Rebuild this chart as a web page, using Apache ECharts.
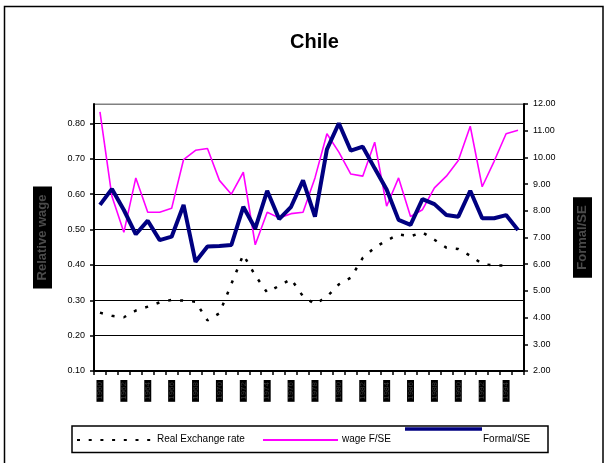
<!DOCTYPE html>
<html>
<head>
<meta charset="utf-8">
<script src="https://cdn.jsdelivr.net/npm/echarts@6/dist/echarts.min.js"></script>
<style>
html,body{margin:0;padding:0;background:#fff;}
#chart{width:610px;height:463px;}
</style>
</head>
<body>
<div id="chart"></div>
<script>
var years = ['1960','1961','1962','1963','1964','1965','1966','1967','1968','1969',
             '1970','1971','1972','1973','1974','1975','1976','1977','1978','1979',
             '1980','1981','1982','1983','1984','1985','1986','1987','1988','1989',
             '1990','1991','1992','1993','1994','1995'];
var realExchangeRate = [0.265,0.256,0.252,0.271,0.282,0.294,0.301,0.299,0.296,0.243,
                        0.263,0.346,0.429,0.370,0.322,0.341,0.360,0.311,0.289,0.310,
                        0.345,0.364,0.420,0.449,0.469,0.486,0.481,0.492,0.471,0.449,
                        0.445,0.426,0.403,0.398,0.398,null];
var wageFSE = [0.833,0.594,0.492,0.646,0.549,0.549,0.560,0.698,0.724,0.729,
               0.639,0.600,0.662,0.457,0.549,0.533,0.545,0.549,0.646,0.771,
               0.719,0.657,0.651,0.747,0.566,0.646,0.537,0.556,0.618,0.651,
               0.695,0.792,0.621,0.693,0.771,0.781];
var formalSE = [8.22,8.82,8.03,7.12,7.63,6.90,7.03,8.22,6.09,6.66,
                6.68,6.72,8.15,7.34,8.75,7.69,8.15,9.14,7.78,10.30,
                11.28,10.25,10.40,9.59,8.80,7.66,7.47,8.44,8.25,7.84,
                7.78,8.75,7.72,7.72,7.84,7.28];

var FONT = 'Liberation Sans, Arial, sans-serif';
var chart = echarts.init(document.getElementById('chart'));
chart.setOption({
  animation: false,
  backgroundColor: '#fff',
  textStyle: {fontFamily: FONT},
  title: {
    text: 'Chile', left: 285, top: 27,
    textStyle: {fontSize: 20, fontWeight: 'bold', color: '#000', fontFamily: FONT}
  },
  grid: {left: 94, right: 86, top: 104, bottom: 92, show: true, borderColor: '#808080', borderWidth: 1},
  xAxis: {
    type: 'category', data: years, boundaryGap: true,
    axisLine: {lineStyle: {color: '#000', width: 2}},
    axisTick: {show: true, interval: 0, length: 4, lineStyle: {color: '#000', width: 1.5}},
    axisLabel: {
      interval: 1, rotate: 90, fontSize: 8, color: '#3a3a3a', backgroundColor: '#000',
      padding: [0, 2], lineHeight: 7, margin: 9, fontFamily: FONT
    },
    splitLine: {show: false}
  },
  yAxis: [{
    type: 'value', min: 0.1, max: 0.855, interval: 0.1,
    axisLine: {show: true, lineStyle: {color: '#000', width: 2}},
    axisTick: {show: true, length: 4, lineStyle: {color: '#000', width: 1.5}},
    axisLabel: {formatter: function (v) { return v.toFixed(2); }, showMaxLabel: false,
                fontSize: 9, color: '#000', margin: 9, fontFamily: FONT},
    splitLine: {show: true, lineStyle: {color: ['#000','#000','#000','#000','#000','#000','#000','#000','#808080'], width: 1}},
    name: 'Relative wage', nameLocation: 'middle', nameRotate: 90, nameGap: 42,
    nameTextStyle: {fontSize: 13, fontWeight: 'bold', color: '#4a4a4a', backgroundColor: '#000',
                    padding: [3, 8], fontFamily: FONT}
  }, {
    type: 'value', min: 2, max: 12, interval: 1, position: 'right',
    axisLine: {show: true, lineStyle: {color: '#000', width: 2}},
    axisTick: {show: true, length: 4, lineStyle: {color: '#000', width: 1.5}},
    axisLabel: {formatter: function (v) { return v.toFixed(2); },
                fontSize: 9, color: '#000', margin: 9, fontFamily: FONT},
    splitLine: {show: false},
    name: 'Formal/SE', nameLocation: 'middle', nameRotate: 90, nameGap: 49,
    nameTextStyle: {fontSize: 13, fontWeight: 'bold', color: '#4a4a4a', backgroundColor: '#000',
                    padding: [3, 8], fontFamily: FONT}
  }],
  series: [{
    name: 'Real Exchange rate', type: 'line', yAxisIndex: 0, data: realExchangeRate,
    symbol: 'none', lineStyle: {color: '#000', width: 2.5, type: [3, 9]}, z: 2
  }, {
    name: 'wage F/SE', type: 'line', yAxisIndex: 0, data: wageFSE,
    symbol: 'none', lineStyle: {color: '#FF00FF', width: 1.6}, z: 3
  }, {
    name: 'Formal/SE', type: 'line', yAxisIndex: 1, data: formalSE,
    symbol: 'none', lineStyle: {color: '#000080', width: 4}, z: 4
  }],
  graphic: [
    {type: 'rect', shape: {x: 4.5, y: 6.5, width: 598.5, height: 470}, style: {fill: 'none', stroke: '#000', lineWidth: 1.5}, silent: true},
    {type: 'rect', shape: {x: 72, y: 426, width: 476, height: 26.5}, style: {fill: '#fff', stroke: '#000', lineWidth: 1.5}, silent: true},
    {type: 'line', shape: {x1: 77, y1: 440, x2: 153, y2: 440}, style: {stroke: '#000', lineWidth: 2, lineDash: [3, 8.7]}, silent: true},
    {type: 'text', left: 157, top: 434, style: {text: 'Real Exchange rate', fontSize: 10, fill: '#000', font: '10px ' + FONT}, silent: true},
    {type: 'line', shape: {x1: 263, y1: 440, x2: 338, y2: 440}, style: {stroke: '#FF00FF', lineWidth: 2}, silent: true},
    {type: 'text', left: 342, top: 434, style: {text: 'wage F/SE', fontSize: 10, fill: '#000', font: '10px ' + FONT}, silent: true},
    {type: 'line', shape: {x1: 405, y1: 429, x2: 482, y2: 429}, style: {stroke: '#000080', lineWidth: 3.5}, silent: true},
    {type: 'text', left: 483, top: 434, style: {text: 'Formal/SE', fontSize: 10, fill: '#000', font: '10px ' + FONT}, silent: true}
  ]
});
</script>
</body>
</html>
